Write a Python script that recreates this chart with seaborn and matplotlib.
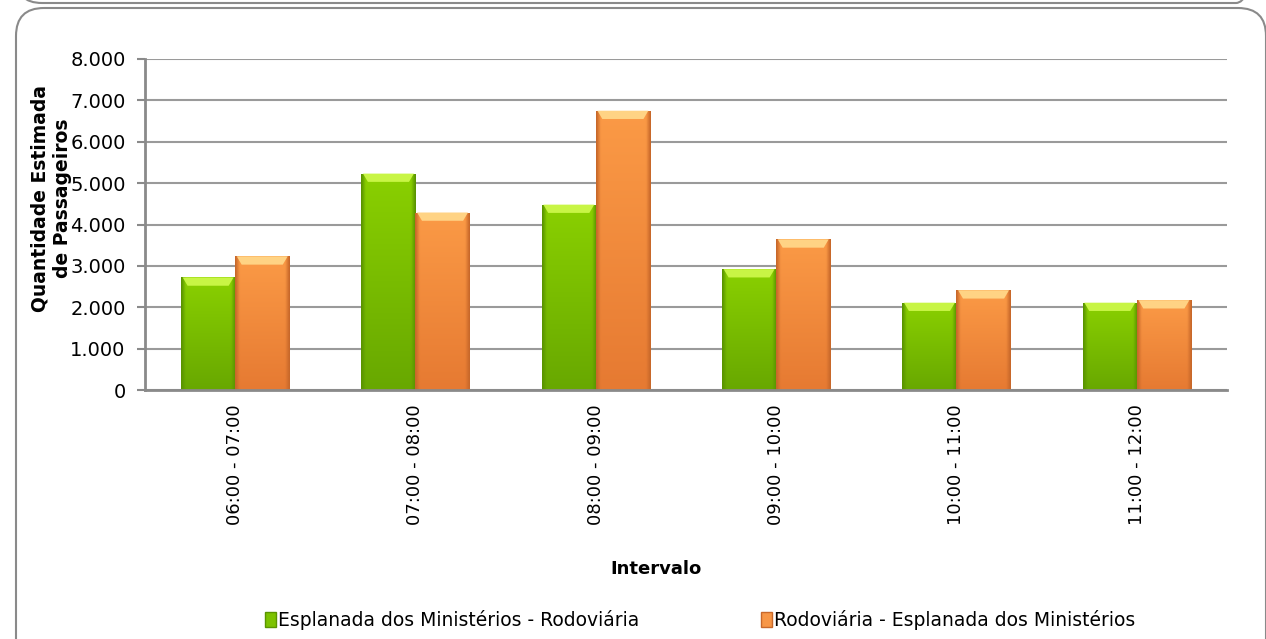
import numpy as np
import pandas as pd
import matplotlib
matplotlib.use('Agg')
import matplotlib.pyplot as plt
import seaborn as sns
from matplotlib.patches import FancyBboxPatch, Polygon, Patch
from matplotlib.ticker import FuncFormatter, FixedLocator
from matplotlib.colors import to_rgb

intervalos = ['06:00 - 07:00', '07:00 - 08:00', '08:00 - 09:00',
              '09:00 - 10:00', '10:00 - 11:00', '11:00 - 12:00']
esplanada_rodoviaria = [2720, 5230, 4480, 2920, 2110, 2110]
rodoviaria_esplanada = [3230, 4290, 6750, 3640, 2410, 2170]
series = ['Esplanada dos Ministérios - Rodoviária',
          'Rodoviária - Esplanada dos Ministérios']

df = pd.DataFrame({
    'Intervalo': intervalos * 2,
    'Passageiros': esplanada_rodoviaria + rodoviaria_esplanada,
    'Sentido': [series[0]] * 6 + [series[1]] * 6,
})

sns.set_style('white')
plt.rcParams['font.family'] = ['DejaVu Sans']
plt.rcParams['text.color'] = 'black'
plt.rcParams['xtick.color'] = 'black'
plt.rcParams['ytick.color'] = 'black'

verde = '#7cc200'
laranja = '#f79646'
cores = {series[0]: verde, series[1]: laranja}

W, H = 1266, 639
fig = plt.figure(figsize=(12.66, 6.39), dpi=100)

# molduras arredondadas (coordenadas em pixels)
bg = fig.add_axes([0, 0, 1, 1], zorder=-1)
bg.set_xlim(0, W)
bg.set_ylim(H, 0)
bg.axis('off')
bg.add_patch(FancyBboxPatch((16, -200), 1246, 203,
                            boxstyle='round,pad=0,rounding_size=26',
                            facecolor='none', edgecolor='#8a8a8a', linewidth=1.5))
bg.add_patch(FancyBboxPatch((16, 8), 1250, 660,
                            boxstyle='round,pad=0,rounding_size=28',
                            facecolor='none', edgecolor='#8a8a8a', linewidth=1.5))

ax = fig.add_axes([145 / W, 1 - 390 / H, 1082 / W, 331 / H])
ax.patch.set_alpha(0)

sns.barplot(data=df, x='Intervalo', y='Passageiros', hue='Sentido',
            palette=cores, width=0.6, ax=ax, legend=False,
            linewidth=0, saturation=1)

# sombreamento tipo excel (gradiente + chanfro no topo)
grad = {
    verde: ('#5a9400', '#8ad000', '#68a800', '#c8f545'),
    laranja: ('#c8682a', '#fb9a46', '#e67a32', '#ffd384'),
}
for p in list(ax.patches):
    x, y = p.get_x(), p.get_y()
    w, h = p.get_width(), p.get_height()
    r, g, b = p.get_facecolor()[:3]
    key = verde if r < 0.7 else laranja
    borda, claro, escuro, chanfro = [np.array(to_rgb(k)) for k in grad[key]]
    nx, ny = 40, 60
    hx = np.linspace(0, 1, nx)
    edge = np.clip(1 - np.minimum(hx, 1 - hx) / 0.08, 0, 1)[None, :, None]
    vy = np.linspace(0, 1, ny)[:, None, None]
    base = claro * (1 - vy) + escuro * vy
    img = base * (1 - edge) + borda * edge
    im = ax.imshow(img, extent=[x, x + w, y, y + h], aspect='auto',
                   origin='upper', zorder=p.get_zorder() + 0.1,
                   interpolation='bilinear')
    im.set_clip_path(p)
    dx = w * 0.12
    dh = 200
    top = y + h
    ax.add_patch(Polygon([(x + w * 0.03, top), (x + w * 0.97, top),
                          (x + w - dx, top - dh), (x + dx, top - dh)],
                         closed=True, facecolor=chanfro, edgecolor='none',
                         zorder=p.get_zorder() + 0.2))

ax.set_xlim(-0.5, 5.5)
ax.set_ylim(0, 8000)
ax.set_yticks(np.arange(0, 8001, 1000))
ax.yaxis.set_major_formatter(FuncFormatter(lambda v, _: f'{int(v):,}'.replace(',', '.')))
ax.grid(axis='y', color='#9a9a9a', linewidth=1.5, zorder=0)
ax.set_axisbelow(True)

ax.set_xticks(range(6))
ax.set_xticklabels(intervalos, rotation=90, fontsize=13)
ax.xaxis.set_minor_locator(FixedLocator(np.arange(-0.5, 6, 1)))
ax.tick_params(axis='x', which='major', length=0, pad=10)
ax.tick_params(axis='x', which='minor', length=6, width=1.5, color='#8a8a8a', direction='out')
ax.tick_params(axis='y', length=6, width=1.5, color='#8a8a8a', labelsize=14, pad=8,
               direction='out', left=True)

for s in ['top', 'right']:
    ax.spines[s].set_visible(False)
for s in ['left', 'bottom']:
    ax.spines[s].set_color('#8a8a8a')
    ax.spines[s].set_linewidth(2)
    ax.spines[s].set_zorder(5)

ax.set_xlabel('')
ax.set_ylabel('')
fig.text(656 / W, 1 - 569 / H, 'Intervalo', fontsize=13, fontweight='bold',
         ha='center', va='center')
fig.text(51 / W, 1 - 198 / H, 'Quantidade Estimada\nde Passageiros', fontsize=13.5,
         fontweight='bold', rotation=90, ha='center', va='center', linespacing=1.2,
         multialignment='center')

handles = [Patch(facecolor=verde, edgecolor='#5a9400'),
           Patch(facecolor=laranja, edgecolor='#c8682a')]
fig.legend(handles, series, loc='center', bbox_to_anchor=(700 / W, 1 - 620 / H),
           ncol=2, frameon=False, fontsize=13.5, handlelength=0.6, handleheight=0.9,
           handletextpad=0.1, columnspacing=6.5)

fig.savefig('out.png', dpi=100)
